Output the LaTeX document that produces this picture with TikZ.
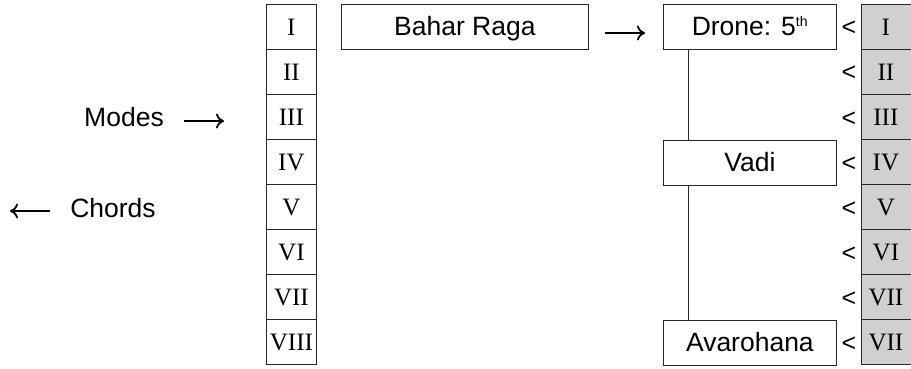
\documentclass[tikz,border=0pt]{standalone}
\usepackage{fontspec}
\setmainfont{Liberation Serif}
\newfontfamily\arialf{Liberation Sans}
\usetikzlibrary{arrows.meta}
\definecolor{cellgray}{RGB}{208,208,208}
\definecolor{edge}{RGB}{40,40,40}
\tikzset{
  cell/.style={draw=edge, line width=0.8pt, minimum width=50pt, minimum height=45pt, inner sep=0pt,
    font=\fontsize{25}{25}\selectfont, text height=17pt, text depth=0pt, anchor=north west},
  graycell/.style={cell, fill=cellgray},
  wbox/.style={draw=edge, line width=0.8pt, minimum height=45pt, inner sep=0pt,
    font=\arialf\fontsize{26.5}{26.5}\selectfont, text height=18pt, text depth=0pt, anchor=north west},
  lbl/.style={inner sep=0pt, font=\arialf\fontsize{26.5}{26.5}\selectfont, anchor=base},
  lt/.style={inner sep=0pt, font=\arialf\fontsize{25}{25}\selectfont, anchor=base},
  arr/.style={line width=1.8pt, -{To[length=8pt,width=15pt]}},
  link/.style={line width=0.8pt, draw=edge}
}
\begin{document}
\begin{tikzpicture}[x=1pt,y=-1pt]
\useasboundingbox (0,0) rectangle (911,369);
% left column
\foreach \r [count=\k from 0] in {I,II,III,IV,V,VI,VII,VIII}{
  \node[cell] (L\k) at (266,{4+45*\k}) {\r};
}
% right gray column
\foreach \r [count=\k from 0] in {I,II,III,IV,V,VI,VII,VII}{
  \node[graycell] (R\k) at (860.5,{4+45*\k}) {\r};
  \node[lt] (lt\k) at (849,{36+45*\k}) {<};
}
% boxes
\node[wbox, minimum width=247pt] (bahar) at (341,4) {Bahar Raga};
\node[wbox, minimum width=173pt] (drone) at (663,4) {Drone: 5\textsuperscript{\fontsize{14}{14}\selectfont th}};
\node[wbox, minimum width=173pt] (vadi) at (663,140) {Vadi};
\node[wbox, minimum width=173pt] (avaro) at (663,320) {Avarohana};
\draw[link] (drone.south west) ++(25,0) coordinate (d1) -- (d1 |- vadi.north);
\draw[link] (vadi.south west) ++(25,0) coordinate (v1) -- (v1 |- avaro.north);
% labels
\node[lbl] (modes) at (124,127) {Modes};
\node[lbl] (chords) at (113,217) {Chords};
% arrows
\coordinate (ma) at (184,121);
\coordinate (mb) at (224,121);
\draw[arr] (ma) -- (mb);
\coordinate (ca) at (50,211);
\coordinate (cb) at (10,211);
\draw[arr] (ca) -- (cb);
\coordinate (ba) at (605,33);
\coordinate (bb) at (645,33);
\draw[arr] (ba) -- (bb);
\end{tikzpicture}
\end{document}
